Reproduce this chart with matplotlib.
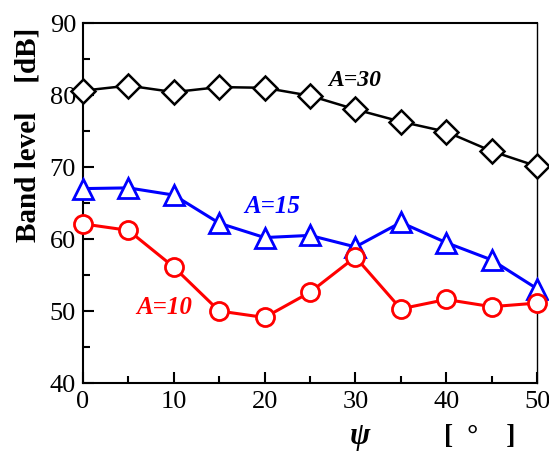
import matplotlib
matplotlib.use("Agg")
import matplotlib.pyplot as plt
from matplotlib.ticker import MultipleLocator

psi = [0, 5, 10, 15, 20, 25, 30, 35, 40, 45, 50]
a30 = [80.6, 81.3, 80.4, 81.1, 81.0, 79.9, 78.0, 76.3, 74.9, 72.2, 70.1]
a15 = [67.0, 67.1, 66.1, 62.2, 60.2, 60.5, 58.9, 62.3, 59.5, 57.1, 53.1]
a10 = [62.1, 61.2, 56.1, 50.0, 49.1, 52.6, 57.5, 50.3, 51.6, 50.6, 51.1]

plt.rcParams['font.family'] = 'serif'
plt.rcParams['font.serif'] = ['Liberation Serif', 'Times New Roman', 'DejaVu Serif']
plt.rcParams['mathtext.fontset'] = 'stix'

fig = plt.figure(figsize=(5.49, 4.52), dpi=100)
ax = fig.add_axes([83/549, 1-384/452, (537-83)/549, (384-24)/452])

ax.plot(psi, a30, color='black', lw=1.8, marker='D', ms=12, mfc='white', mec='black', mew=1.8, zorder=3, clip_on=False)
ax.plot(psi, a15, color='#0000ff', lw=2.2, marker='^', ms=14, mfc='white', mec='#0000ff', mew=2.0, zorder=3, clip_on=False)
ax.plot(psi, a10, color='#ff0000', lw=2.2, marker='o', ms=13, mfc='white', mec='#ff0000', mew=2.0, zorder=3, clip_on=False)

ax.text(29.9, 82.2, 'A=30', color='black', fontsize=17, fontweight='bold', style='italic', ha='center', va='center')
ax.text(20.8, 64.6, 'A=15', color='#0000ff', fontsize=18, fontweight='bold', style='italic', ha='center', va='center')
ax.text(8.9, 50.6, 'A=10', color='#ff0000', fontsize=18, fontweight='bold', style='italic', ha='center', va='center')

ax.set_xlim(0, 50)
ax.set_ylim(40, 90)
ax.xaxis.set_major_locator(MultipleLocator(10))
ax.xaxis.set_minor_locator(MultipleLocator(5))
ax.yaxis.set_major_locator(MultipleLocator(10))
ax.yaxis.set_minor_locator(MultipleLocator(5))
ax.tick_params(which='both', direction='in', top=False, right=False, width=1.5, labelsize=19)
ax.tick_params(which='major', length=8)
ax.tick_params(which='minor', length=5)
ax.tick_params(axis='x', pad=5)
ax.tick_params(axis='y', pad=5)
for s in ax.spines.values():
    s.set_linewidth(1.5)
ax.spines['right'].set_linewidth(1.0)

fig.text(28/549, 1-135/452, 'Band level    [dB]', fontsize=21, fontweight='bold',
         rotation=90, ha='center', va='center')
fig.text(360/549, 1-437/452, 'ψ', fontsize=22, fontweight='bold', style='italic', ha='center', va='center')
fig.text(480/549, 1-437/452, '[  °    ]', fontsize=20, fontweight='bold', ha='center', va='center')

fig.savefig('out.png', dpi=100)
